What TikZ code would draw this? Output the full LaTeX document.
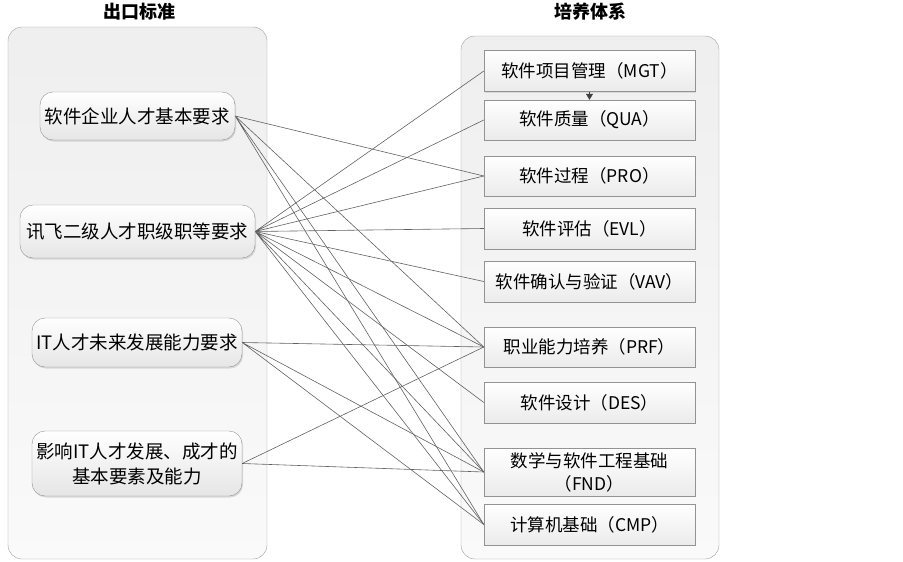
\documentclass[tikz,border=0pt]{standalone}
\usepackage{fontspec}
\setmainfont{Noto Sans CJK SC}
\usetikzlibrary{arrows.meta,shadows,positioning}

\begin{document}
\begin{tikzpicture}
		[x=1pt, y=-1pt,
		frame/.style={draw=gray!75, rounded corners=14pt, top color=gray!13, bottom color=gray!4},
		title/.style={font=\fontsize{18}{20}\selectfont\bfseries},
		need/.style={draw=gray!85, rounded corners=13pt, top color=white, bottom color=gray!20,
			drop shadow={shadow xshift=1pt, shadow yshift=-1.5pt, opacity=0.25},
			align=center, inner sep=0pt, font=\fontsize{18.5}{25}\selectfont},
		course/.style={draw=gray!85, top color=white, bottom color=gray!16,
			drop shadow={shadow xshift=1pt, shadow yshift=-1pt, opacity=0.2},
			minimum width=211pt, align=center, inner sep=0pt, font=\fontsize{17.5}{23}\selectfont},
		link/.style={draw=black!62, line width=0.6pt}]
		\useasboundingbox (0,0) rectangle (903,562);

		% containers
		\draw[frame] (8,27) rectangle (267,559);
		\draw[frame] (461,36) rectangle (719,559);
		\node[title] (out) at (139,12) {出口标准};
		\node[title] (sys) at (590,12) {培养体系};

		% requirements
		\coordinate (a) at (137.5,116);
		\coordinate (b) at (137.5,231.5);
		\coordinate (c) at (137,342.5);
		\coordinate (d) at (137,463.5);

		\path
		(a) node[need, minimum width=195pt, minimum height=48pt](o) {软件企业人才基本要求}
		(b) node[need, minimum width=235pt, minimum height=53pt](p) {讯飞二级人才职级职等要求}
		(c) node[need, minimum width=210pt, minimum height=49pt](q) {IT人才未来发展能力要求}
		(d) node[need, minimum width=210pt, minimum height=65pt](r) {影响IT人才发展、成才的\\基本要素及能力};

		% courses
		\path
		(589.5,71) node[course, minimum height=41pt](mgt) {软件项目管理（MGT）}
		(589.5,120) node[course, minimum height=40pt](qua) {软件质量（QUA）}
		(589.5,176) node[course, minimum height=40pt](pro) {软件过程（PRO）}
		(589.5,228.5) node[course, minimum height=41pt](evl) {软件评估（EVL）}
		(589.5,281.5) node[course, minimum height=41pt](vav) {软件确认与验证（VAV）}
		(589.5,347) node[course, minimum height=40pt](prf) {职业能力培养（PRF）}
		(589.5,402.5) node[course, minimum height=41pt](des) {软件设计（DES）}
		(589.5,472) node[course, minimum height=48pt](fnd) {数学与软件工程基础\\（FND）}
		(589.5,524.5) node[course, minimum height=41pt](cmp) {计算机基础（CMP）};

		\draw[link, draw=black!75, -{Triangle[length=6pt, width=7pt]}] (mgt) to (qua);

		% links
		\draw[link] (o.east) to (pro.west) (o.east) to (prf.west) (o.east) to (fnd.west) (o.east) to (cmp.west);
		\draw[link] (p.east) to (mgt.west) (p.east) to (qua.west) (p.east) to (pro.west) (p.east) to (evl.west) (p.east) to (vav.west);
		\draw[link] (p.east) to (prf.west) (p.east) to (des.west) (p.east) to (fnd.west) (p.east) to (cmp.west);
		\draw[link] (q.east) to (prf.west) (q.east) to (fnd.west) (q.east) to (cmp.west);
		\draw[link] (r.east) to (prf.west) (r.east) to (fnd.west);
	\end{tikzpicture}
\end{document}
